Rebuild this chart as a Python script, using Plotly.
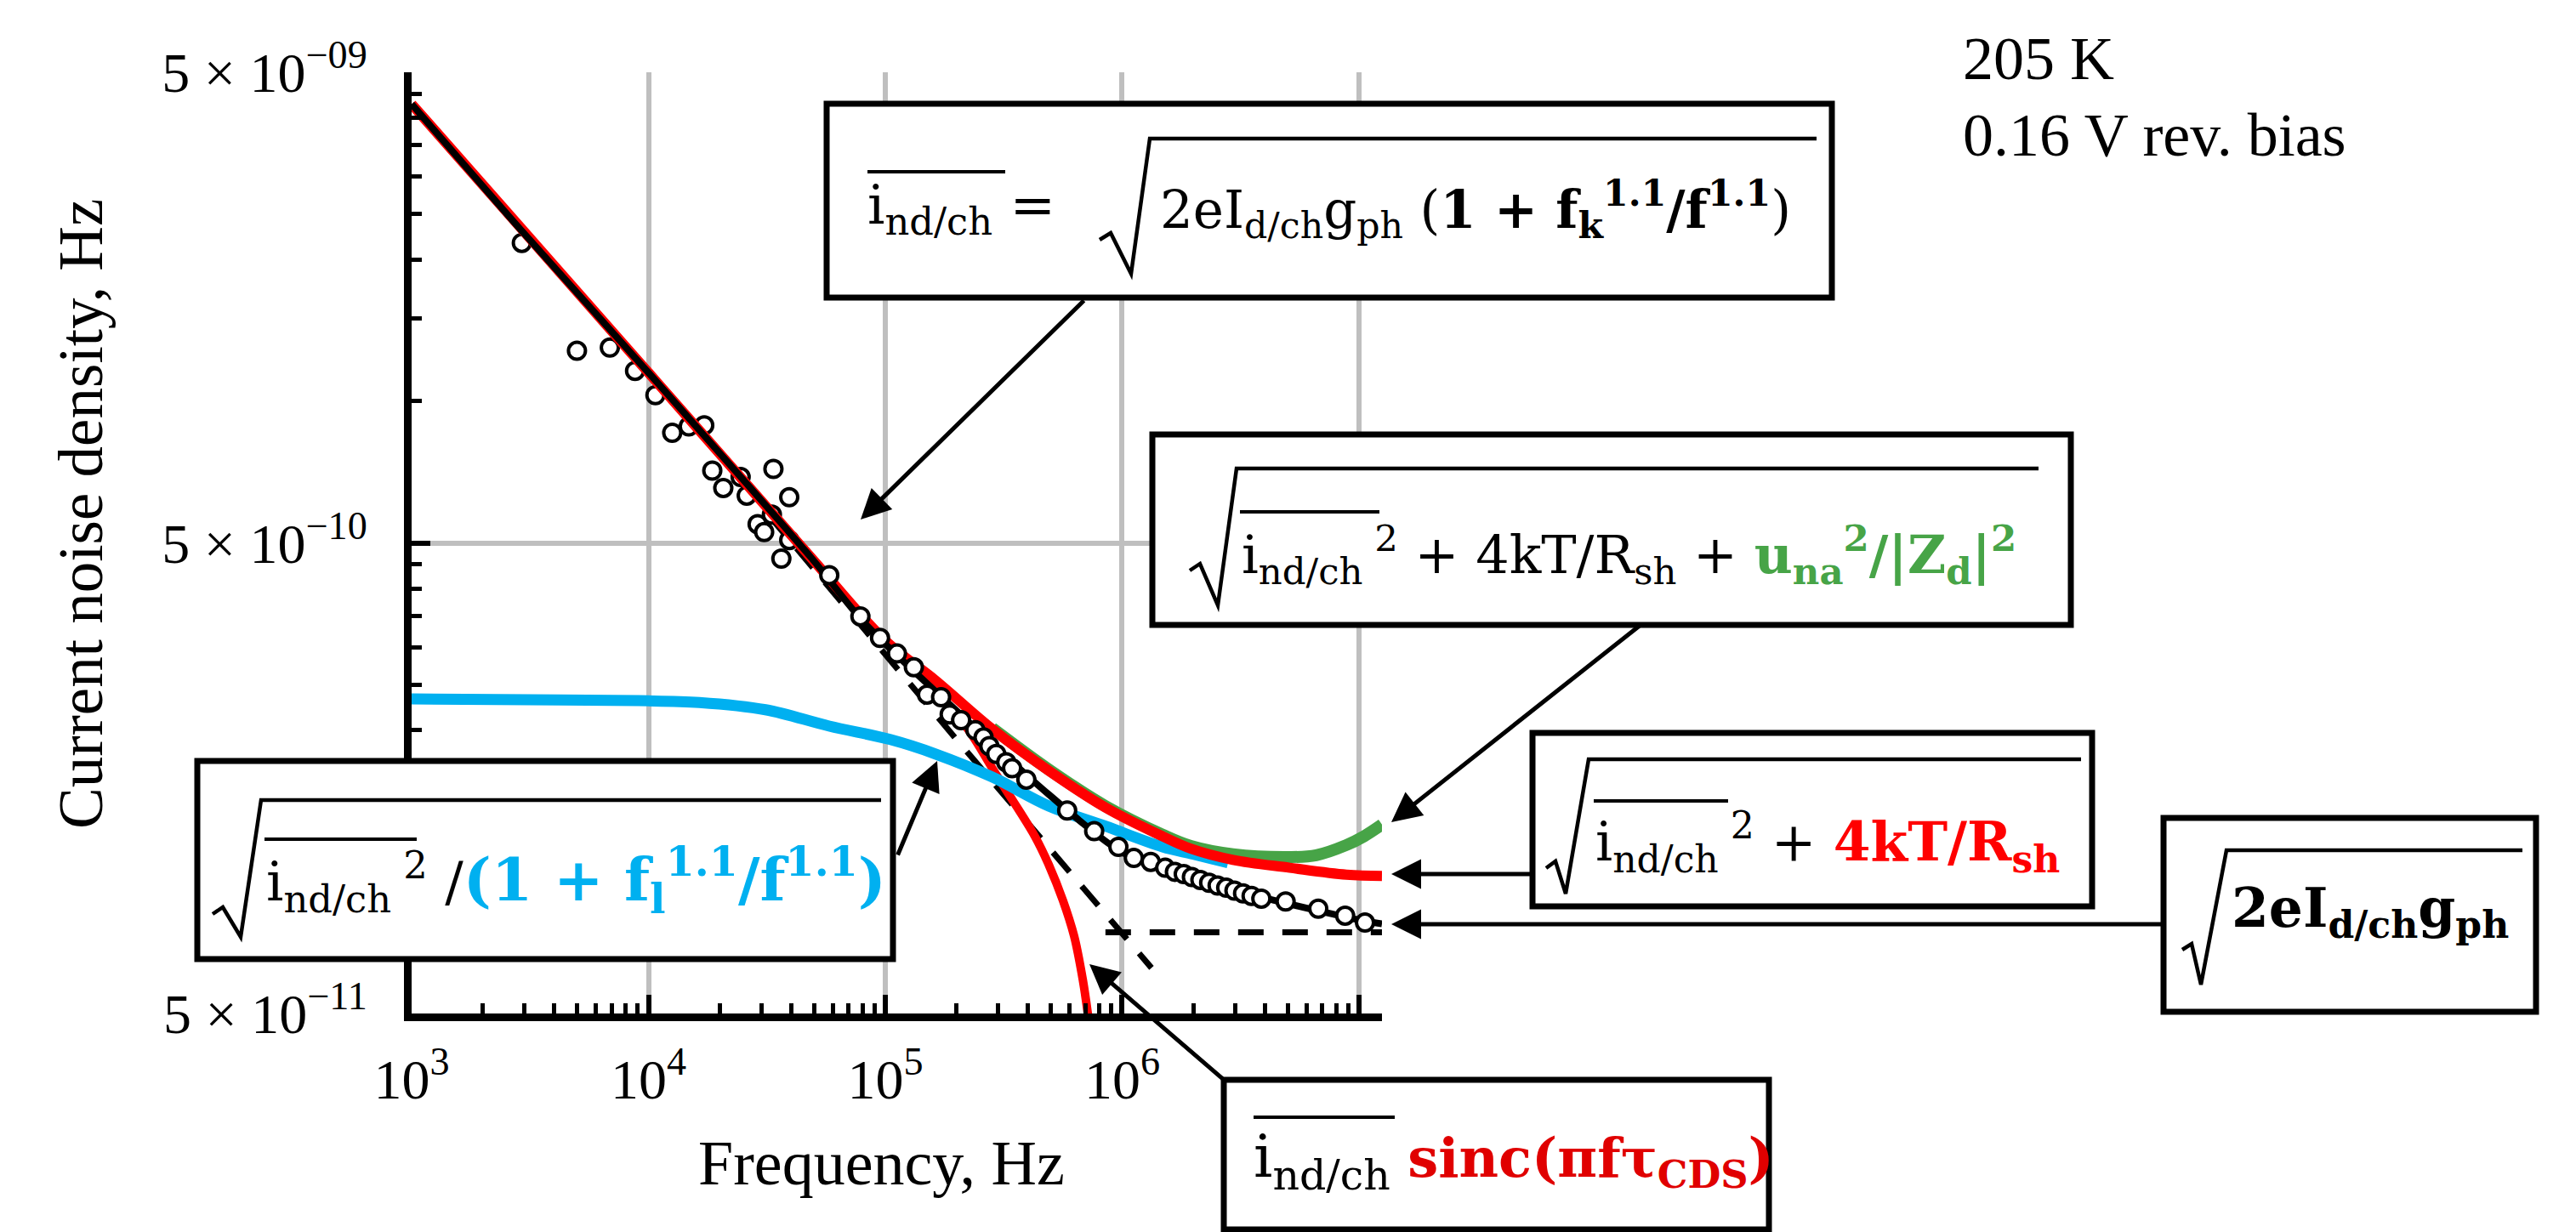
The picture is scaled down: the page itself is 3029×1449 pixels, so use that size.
import math
import plotly.graph_objects as go

# ---------------- data ----------------
# measured current noise density (open circles)
meas_f = [2.92e3, 4.99e3, 6.87e3, 8.78e3, 1.07e4, 1.26e4, 1.48e4, 1.72e4, 1.86e4, 2.07e4,
          2.45e4, 2.60e4, 2.89e4, 3.08e4, 3.32e4, 3.37e4, 3.64e4, 3.93e4, 3.93e4,
          5.80e4, 7.85e4, 9.50e4, 1.12e5, 1.32e5, 1.50e5, 1.72e5, 1.87e5, 2.09e5, 2.40e5,
          2.60e5, 2.75e5, 2.94e5, 3.24e5, 3.43e5, 3.94e5, 5.86e5, 7.62e5, 9.64e5, 1.12e6,
          1.32e6, 1.52e6, 1.67e6, 1.82e6, 1.97e6, 2.14e6, 2.33e6, 2.53e6, 2.75e6, 2.98e6,
          3.24e6, 3.52e6, 3.87e6, 4.90e6, 6.73e6, 8.74e6, 1.06e7]
meas_v = [2.17e-9, 1.28e-9, 1.30e-9, 1.16e-9, 1.03e-9, 8.57e-10, 8.84e-10, 8.89e-10, 7.12e-10, 6.54e-10,
          6.90e-10, 6.30e-10, 5.48e-10, 5.27e-10, 5.74e-10, 7.18e-10, 4.63e-10, 6.25e-10, 5.07e-10,
          4.27e-10, 3.49e-10, 3.14e-10, 2.91e-10, 2.72e-10, 2.38e-10, 2.35e-10, 2.16e-10, 2.10e-10, 2.00e-10,
          1.93e-10, 1.85e-10, 1.78e-10, 1.71e-10, 1.66e-10, 1.57e-10, 1.35e-10, 1.22e-10, 1.13e-10, 1.07e-10,
          1.05e-10, 1.02e-10, 1.00e-10, 9.89e-11, 9.75e-11, 9.61e-11, 9.48e-11, 9.35e-11, 9.25e-11, 9.12e-11,
          9.00e-11, 8.89e-11, 8.77e-11, 8.65e-11, 8.35e-11, 8.07e-11, 7.80e-11]
N_LOW = 19  # low-frequency points that sit under the fit line

# fitted i_nd/ch (black solid)
fit_f = [1e3, 2.92e3, 1e4, 4.9e4, 8.2e4, 2.14e5, 4.9e5, 1e6, 2e6, 4e6, 1e7, 1.25e7]
fit_v = [4.28e-9, 2.30e-9, 1.15e-9, 4.63e-10, 3.37e-10, 2.13e-10, 1.46e-10, 1.10e-10, 9.7e-11, 8.8e-11, 7.9e-11, 7.75e-11]

# with 4kT/Rsh (red)
rsh_f = [1e3, 1e4, 4.9e4, 1e5, 1.63e5, 2.83e5, 4.9e5, 8.5e5, 1.48e6, 1.95e6, 2.94e6, 5.1e6, 8.85e6, 1.25e7]
rsh_v = [4.28e-9, 1.15e-9, 4.63e-10, 3.10e-10, 2.55e-10, 2.01e-10, 1.64e-10, 1.37e-10, 1.19e-10, 1.12e-10,
         1.06e-10, 1.02e-10, 9.86e-11, 9.80e-11]

# with amplifier noise (green)
amp_f = [2.83e5, 4.9e5, 8.5e5, 1.48e6, 1.95e6, 2.94e6, 5.1e6, 6.6e6, 8.85e6, 1.05e7, 1.25e7]
amp_v = [2.02e-10, 1.65e-10, 1.38e-10, 1.20e-10, 1.135e-10, 1.09e-10, 1.075e-10, 1.085e-10, 1.14e-10, 1.19e-10, 1.26e-10]

# high-pass filtered (cyan)
hp_f = [1e3, 3.16e3, 9.1e3, 1.64e4, 3.12e4, 5.8e4, 1.05e5, 1.63e5, 2.83e5, 4.9e5, 8.5e5, 1.48e6, 2.0e6, 2.8e6]
hp_v = [2.33e-10, 2.32e-10, 2.31e-10, 2.29e-10, 2.21e-10, 2.04e-10, 1.91e-10, 1.78e-10, 1.59e-10, 1.38e-10,
        1.25e-10, 1.13e-10, 1.09e-10, 1.045e-10]

# CDS sinc roll-off (red, falling)
sinc_f = [1.5e5, 2.2e5, 2.83e5, 3.24e5, 4.28e5, 4.9e5, 5.62e5, 6.27e5, 6.82e5, 7.2e5]
sinc_v = [2.50e-10, 2.03e-10, 1.66e-10, 1.49e-10, 1.19e-10, 1.035e-10, 8.7e-11, 7.3e-11, 5.9e-11, 4.9e-11]

# 1/f asymptote and shot-noise level (black dashed)
flick_f = [3.2e4, 2.0e5, 1.33e6]
flick_v = [5.75e-10, 1.91e-10, 6.25e-11]
shot_f = [8.5e5, 1.25e7]
shot_v = [7.44e-11, 7.44e-11]

# axis ticks
x_tickvals = [1e3, 1e4, 1e5, 1e6, 1e7]
x_ticktext = ["10<sup>3</sup>", "10<sup>4</sup>", "10<sup>5</sup>", "10<sup>6</sup>", ""]
y_tickvals = [5e-11, 5e-10, 5e-9]
y_ticktext = ["5 \u00d7 10<sup>\u221211</sup>", "5 \u00d7 10<sup>\u221210</sup>", "5 \u00d7 10<sup>\u221209</sup>"]
x_minor = [m * 10 ** e for e in range(3, 7) for m in range(2, 10)]
y_minor = [k * 0.5 * 10 ** e for e in (-10, -9) for k in range(2, 10)]

# ---------------- styling ----------------
W, H = 3029, 1449
L, R, T, B = 484, 1625, 85, 1192
SERIF = "Liberation Serif, Times New Roman, serif"
MATH = "DejaVu Serif, serif"
RED = "#ff0000"
CYAN = "#00b0f0"
GREEN = "#47a447"


def px(x):
    return (x - L) / (R - L)


def py(y):
    return (B - y) / (B - T)


fig = go.Figure()
dash = "30px,22px"
fig.add_trace(go.Scatter(x=flick_f, y=flick_v, mode="lines", line=dict(color="black", width=7, dash=dash)))
fig.add_trace(go.Scatter(x=shot_f, y=shot_v, mode="lines", line=dict(color="black", width=7, dash=dash)))
fig.add_trace(go.Scatter(x=meas_f[:N_LOW], y=meas_v[:N_LOW], mode="markers",
                         marker=dict(symbol="circle", size=20, color="white",
                                     line=dict(color="black", width=4))))
fig.add_trace(go.Scatter(x=amp_f, y=amp_v, mode="lines", line=dict(color=GREEN, width=14, shape="spline")))
fig.add_trace(go.Scatter(x=sinc_f, y=sinc_v, mode="lines", line=dict(color=RED, width=10, shape="spline")))
fig.add_trace(go.Scatter(x=hp_f, y=hp_v, mode="lines", line=dict(color=CYAN, width=13, shape="spline")))
fig.add_trace(go.Scatter(x=rsh_f, y=rsh_v, mode="lines", line=dict(color=RED, width=12, shape="spline")))
fig.add_trace(go.Scatter(x=fit_f, y=fit_v, mode="lines",
                         line=dict(color="black", width=8, shape="spline", smoothing=0.8)))
fig.add_trace(go.Scatter(x=meas_f[N_LOW:], y=meas_v[N_LOW:], mode="markers",
                         marker=dict(symbol="circle", size=20, color="white",
                                     line=dict(color="black", width=4))))

shapes = []
annotations = []


def rect(x0, y0, x1, y1):
    shapes.append(dict(type="rect", xref="paper", yref="paper", layer="above",
                       x0=px(x0), x1=px(x1), y0=py(y1), y1=py(y0),
                       line=dict(color="black", width=7), fillcolor="white"))


def poly(pts, width=4.5):
    d = "M " + " L ".join(f"{px(x):.5f},{py(y):.5f}" for x, y in pts)
    shapes.append(dict(type="path", xref="paper", yref="paper", layer="above", path=d,
                       line=dict(color="black", width=width)))


def bar(x0, x1, y, width=4):
    shapes.append(dict(type="line", xref="paper", yref="paper", layer="above",
                       x0=px(x0), x1=px(x1), y0=py(y), y1=py(y),
                       line=dict(color="black", width=width)))


def text(x, y, s, size, family=MATH, color="black", xanchor="left", angle=0):
    annotations.append(dict(x=px(x), y=py(y), xref="paper", yref="paper", text=s, showarrow=False,
                            xanchor=xanchor, yanchor="middle", textangle=angle,
                            font=dict(size=size, family=family, color=color)))


def arrow(tail, head):
    annotations.append(dict(x=px(head[0]), y=py(head[1]), xref="paper", yref="paper",
                            ax=tail[0] - head[0], ay=tail[1] - head[1], axref="pixel", ayref="pixel",
                            text="", showarrow=True, arrowhead=2, arrowsize=1.4, arrowwidth=5,
                            arrowcolor="black", standoff=0, startstandoff=0))


IND = "i<sub>nd/ch</sub>"

# Box 1: definition of i_nd/ch
rect(972, 122, 2154, 350)
bar(1020, 1182, 202)
poly([(1293, 282), (1306, 274), (1330, 322), (1352, 163), (2136, 163)])
text(1018, 246, IND + " =", 64)
text(1362, 246, "2eI<sub>d/ch</sub>g<sub>ph</sub> (<b>1 + f<sub>k</sub><sup>1.1</sup>/f<sup>1.1</sup></b>)", 61)

# Box 2: with amplifier noise
rect(1355, 511, 2435, 735)
bar(1458, 1622, 602)
poly([(1399, 671), (1411, 663), (1432, 712), (1454, 551), (2397, 551)])
text(1458, 652, IND + "<sup> 2</sup> + 4kT/R<sub>sh</sub> + <span style='color:" + GREEN + "'><b>u<sub>na</sub><sup>2</sup>/|Z<sub>d</sub>|<sup>2</sup></b></span>", 62)

# Box 3: with shunt resistance
rect(1802, 862, 2460, 1066)
bar(1874, 2032, 942)
poly([(1818, 1021), (1829, 1013), (1841, 1051), (1868, 893), (2447, 893)])
text(1874, 990, IND + "<sup> 2</sup> + <span style='color:" + RED + "'><b>4kT/R<sub>sh</sub></b></span>", 63)

# Box 4: shot noise
rect(2544, 962, 2982, 1190)
poly([(2566, 1117), (2577, 1110), (2588, 1158), (2618, 1000), (2966, 1000)])
text(2622, 1072, "<b>2eI<sub>d/ch</sub>g<sub>ph</sub></b>", 63)

# Box 5: high-pass
rect(232, 895, 1050, 1128)
bar(311, 490, 987)
poly([(250, 1075), (262, 1067), (283, 1102), (307, 941), (1036, 941)])
text(311, 1035, IND + "<sup> 2</sup> /<span style='color:" + CYAN + ";font-size:70px'><b>(1 + f<sub>l</sub><sup>1.1</sup>/f<sup>1.1</sup>)</b></span>", 64)

# Box 6: CDS sinc
rect(1439, 1270, 2080, 1446)
bar(1474, 1640, 1314)
text(1472, 1365, "<span style='font-size:70px'>" + IND + "</span> <span style='color:#e00000'><b>sinc(\u03c0f\u03c4<sub>CDS</sub>)</b></span>", 64)

# arrows
arrow((1276, 352), (1012, 611))
arrow((1929, 735), (1636, 967))
arrow((1802, 1028), (1636, 1028))
arrow((2544, 1087), (1636, 1087))
arrow((1055, 1007), (1102, 895))
arrow((1439, 1270), (1281, 1134))

# free texts and axis titles
text(2306, 69, "205 K", 72, family=SERIF)
text(2306, 159, "0.16 V rev. bias", 72, family=SERIF)
text(1036, 1368, "Frequency, Hz", 74, family=SERIF, xanchor="center")
text(95, 605, "Current noise density, Hz", 73, family=SERIF, xanchor="center", angle=-90)

axis_common = dict(type="log", showline=True, linewidth=9, linecolor="black", mirror=False,
                   ticks="inside", ticklen=22, tickwidth=6, tickcolor="black",
                   tickmode="array", showgrid=True, gridcolor="#bfbfbf", gridwidth=6, zeroline=False,
                   tickfont=dict(family=SERIF, size=66, color="black"))

fig.update_layout(
    width=W, height=H,
    margin=dict(l=L, r=W - R, t=T, b=H - B, pad=0),
    paper_bgcolor="white", plot_bgcolor="white", showlegend=False,
    xaxis=dict(range=[3, 7.097], tickvals=x_tickvals, ticktext=x_ticktext, ticklabelstandoff=12,
               minor=dict(tickmode="array", tickvals=x_minor, ticks="inside", ticklen=12,
                          tickwidth=5, tickcolor="black", showgrid=False),
               **axis_common),
    yaxis=dict(range=[math.log10(5e-11), math.log10(5e-9)], tickvals=y_tickvals, ticktext=y_ticktext,
               ticklabelstandoff=30,
               minor=dict(tickmode="array", tickvals=y_minor, ticks="inside", ticklen=12,
                          tickwidth=5, tickcolor="black", showgrid=False),
               **axis_common),
    shapes=shapes,
    annotations=annotations,
)

fig.write_html("out.html", config={"displayModeBar": False},
               post_script="document.body.style.margin='0';document.body.style.overflow='hidden';")
